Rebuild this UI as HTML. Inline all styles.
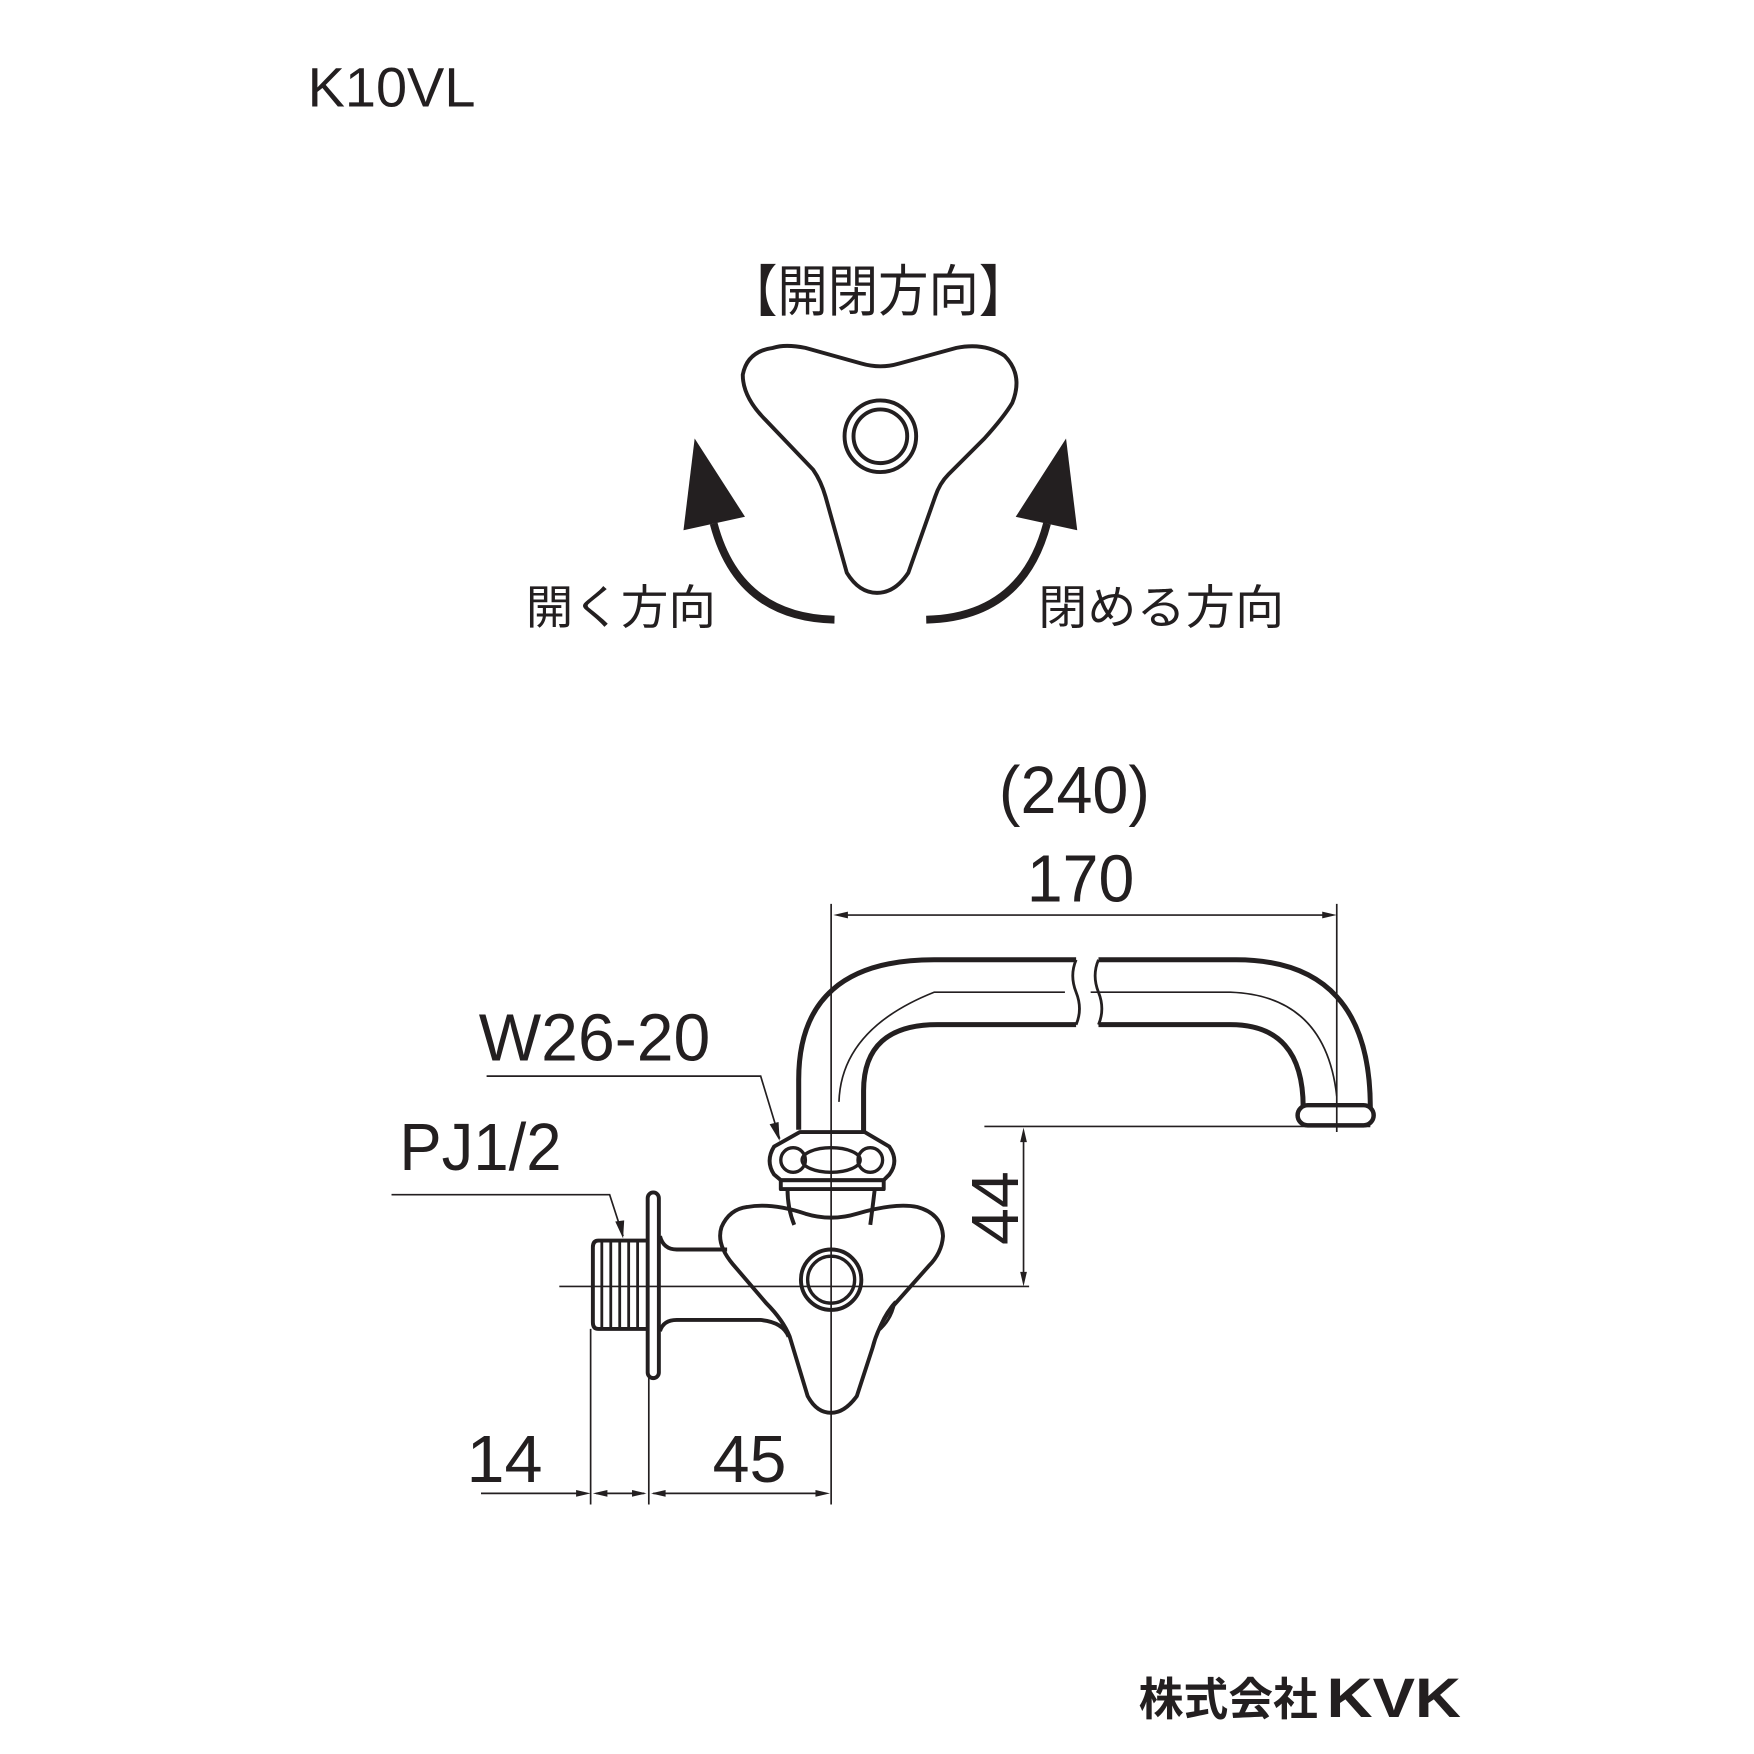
<!DOCTYPE html>
<html><head><meta charset="utf-8"><style>
html,body{margin:0;padding:0;background:#fff;}
svg{display:block;}
text{font-family:"Liberation Sans","Noto Sans CJK JP",sans-serif;fill:#231f20;}
</style></head><body>
<svg width="1754" height="1754" viewBox="0 0 1568 1568" xmlns="http://www.w3.org/2000/svg">
<g fill="none" stroke="#231f20" stroke-linejoin="round" stroke-linecap="round">
<!-- top handle -->
<path d="M691,311 C700,308 710,309 720,311 L770,325 Q787,330 804,325 L855,311 Q880,306 898,318 Q915,335 905,360 Q898,372 880,392 L848,424 Q840,432 836,444 L812,512 Q800,530 784,530 Q768,530 757,512 L738,444 Q734,430 727,420 L684,375 Q664,355 664,335 Q668,314 691,311 Z" stroke-width="3.5"/>
<circle cx="787" cy="390" r="32" stroke-width="3.5"/>
<circle cx="787" cy="390" r="24" stroke-width="3.5"/>
<!-- arrows -->
<path d="M638,468 Q660,552 746,554" stroke-width="7" stroke-linecap="butt"/>
<path d="M936,468 Q914,552 828,554" stroke-width="7" stroke-linecap="butt"/>
</g>
<polygon points="621,392 611,474 666,462" fill="#231f20"/>
<polygon points="953,392 963,474 908,462" fill="#231f20"/>

<g fill="none" stroke="#231f20" stroke-linejoin="round">
<!-- spout -->
<path d="M714,1010 V965 Q714,858 835,858 H962" stroke-width="4.5"/>
<path d="M772,1012 V975 Q772,916 838,916 H962" stroke-width="4.5"/>
<path d="M982,858 H1105 Q1225,858 1225,990" stroke-width="4.5"/>
<path d="M982,916 H1100 Q1165,916 1165,990" stroke-width="4.5"/>
<path d="M962,858 Q956,872 962,887 Q968,902 962,916" stroke-width="2.5"/>
<path d="M982,858 Q976,872 982,887 Q988,902 982,916" stroke-width="2.5"/>
<path d="M750,985 Q752,920 835,887 H952 M975,887 H1100 Q1185,890 1195,980" stroke-width="1.5"/>
<rect x="1160" y="988" width="68" height="18" rx="9" stroke-width="4"/>
<!-- nut -->
<path d="M715,1012 H773 L795,1025 Q804,1038 795,1050 L790,1055 H698 L692,1050 Q684,1038 692,1025 Z" stroke-width="3.5"/>
<rect x="698" y="1055" width="92" height="8" stroke-width="3.5"/>
<ellipse cx="709" cy="1037" rx="11" ry="11" stroke-width="3"/>
<ellipse cx="778" cy="1037" rx="11" ry="11" stroke-width="3"/>
<ellipse cx="743" cy="1037" rx="26" ry="11" stroke-width="3"/>
<path d="M704,1063 Q704,1080 710,1095 M782,1063 Q780,1080 778,1095" stroke-width="3.5"/>
<!-- lower handle -->
<path d="M668,1079 Q690,1075 720,1085 Q743,1092 766,1085 Q800,1075 820,1079 Q842,1085 843,1105 Q842,1120 830,1132 L798,1168 Q785,1185 780,1205 L766,1248 Q755,1263 743,1263 Q730,1263 722,1248 L706,1195 Q700,1180 685,1165 L655,1130 Q640,1112 645,1097 Q652,1081 668,1079 Z" stroke-width="3.5"/>
<circle cx="743" cy="1144" r="27" stroke-width="3.5"/>
<circle cx="743" cy="1144" r="21" stroke-width="3"/>
<path d="M800,1164 Q790,1175 785,1190 Q797,1180 800,1164 Z" stroke-width="2.5"/>
<!-- pipe to wall -->
<path d="M590,1105 Q593,1117 605,1117 H650" stroke-width="3.5"/>
<path d="M590,1190 Q593,1180 605,1180 H680 Q700,1182 705,1195" stroke-width="3.5"/>
<rect x="579" y="1066" width="10" height="166" rx="5" stroke-width="3.5"/>
<path d="M579,1109 H535 Q530,1109 530,1115 V1182 Q530,1188 535,1188 H579" stroke-width="3.5"/>
<path d="M538,1109 V1188 M546,1109 V1188 M554,1109 V1188 M562,1109 V1188 M570,1109 V1188" stroke-width="2.5"/>
</g>

<!-- thin lines -->
<g stroke="#231f20" stroke-width="1.5" fill="none">
<path d="M743,808 V1290"/>
<path d="M1195,808 V1012"/>
<path d="M750,818 H1190"/>
<path d="M880,1007 H1225"/>
<path d="M500,1150 H920"/>
<path d="M915,1012 V1146"/>
<path d="M435,962 H680 L697,1018"/>
<path d="M350,1068 H545 L557,1105"/>
<path d="M528,1188 V1345 M580,1232 V1345 M743,1290 V1345"/>
<path d="M430,1335 H524 M533,1335 H576 M584,1335 H738"/>
</g>
<g fill="#231f20">
<polygon points="745,818 758,815 758,821"/>
<polygon points="1195,818 1182,815 1182,821"/>
<polygon points="915,1008 912,1021 918,1021"/>
<polygon points="915,1150 912,1137 918,1137"/>
<polygon points="528,1335 515,1332 515,1338"/>
<polygon points="530,1335 543,1332 543,1338"/>
<polygon points="578,1335 565,1332 565,1338"/>
<polygon points="582,1335 595,1332 595,1338"/>
<polygon points="742,1335 729,1332 729,1338"/>
<polygon points="697,1020 688,1005 696,1003"/>
<polygon points="557,1107 550,1092 558,1091"/>
</g>

<!-- text -->
<text x="275" y="95" font-size="50" textLength="150" lengthAdjust="spacingAndGlyphs">K10VL</text>
<text x="650" y="278" font-size="50" textLength="270" lengthAdjust="spacingAndGlyphs">【開閉方向】</text>
<text x="470" y="558" font-size="42" textLength="170" lengthAdjust="spacingAndGlyphs">開く方向</text>
<text x="928" y="558" font-size="42" textLength="220" lengthAdjust="spacingAndGlyphs">閉める方向</text>
<text x="893" y="727" font-size="60" textLength="135" lengthAdjust="spacingAndGlyphs">(240)</text>
<text x="918" y="806" font-size="60" textLength="96" lengthAdjust="spacingAndGlyphs">170</text>
<text x="428" y="948" font-size="60" textLength="207" lengthAdjust="spacingAndGlyphs">W26-20</text>
<text x="357" y="1046" font-size="60" textLength="145" lengthAdjust="spacingAndGlyphs">PJ1/2</text>
<text x="417" y="1325" font-size="60" textLength="68" lengthAdjust="spacingAndGlyphs">14</text>
<text x="637" y="1325" font-size="60" textLength="66" lengthAdjust="spacingAndGlyphs">45</text>
<text transform="translate(910,1113) rotate(-90)" font-size="60" textLength="66" lengthAdjust="spacingAndGlyphs">44</text>
<text x="1018" y="1533" font-size="40" font-weight="bold" textLength="160" lengthAdjust="spacingAndGlyphs">株式会社</text>
<text x="1186" y="1535" font-size="50" font-weight="bold" textLength="120" lengthAdjust="spacingAndGlyphs">KVK</text>
</svg>
</body></html>
